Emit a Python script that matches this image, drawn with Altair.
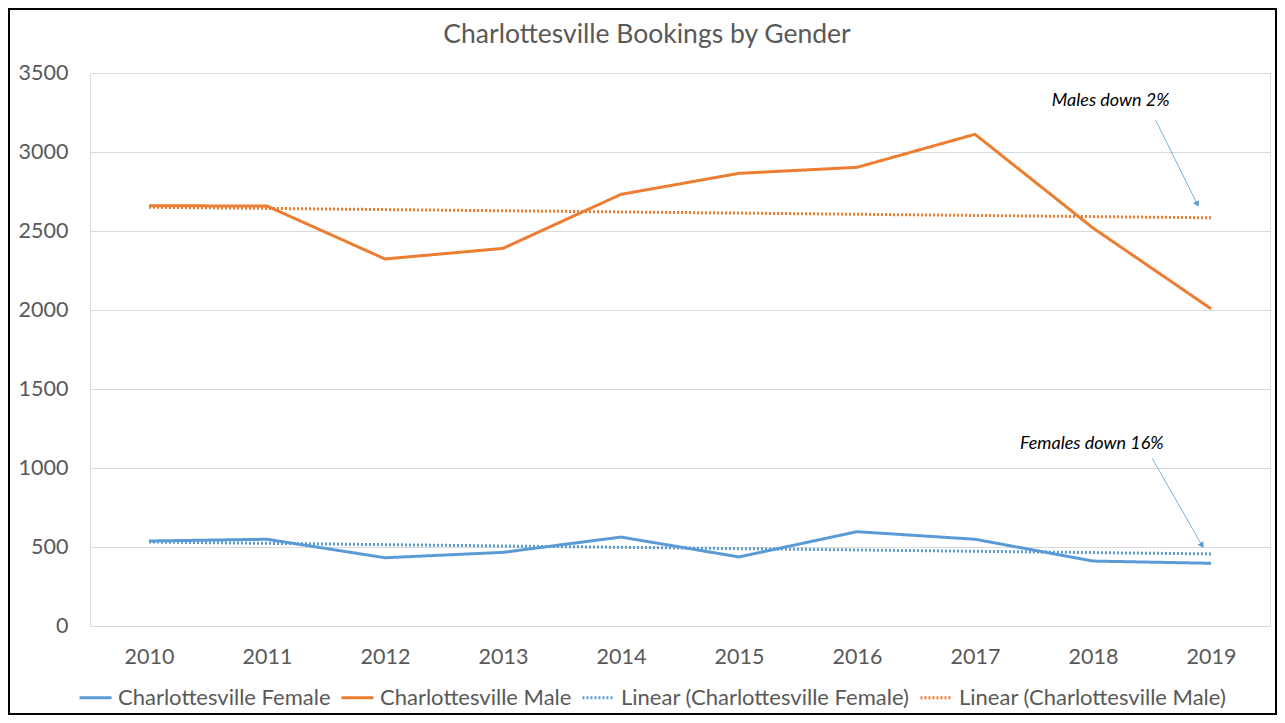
import altair as alt
import pandas as pd

# ---- data ----
years = [2010, 2011, 2012, 2013, 2014, 2015, 2016, 2017, 2018, 2019]
female = [538, 549, 432, 466, 563, 437, 597, 549, 411, 397]
male = [2660, 2658, 2323, 2390, 2732, 2865, 2903, 3112, 2519, 2008]

series_names = ["Charlottesville Female", "Charlottesville Male"]
trend_names = ["Linear (Charlottesville Female)", "Linear (Charlottesville Male)"]
legend_order = [series_names[0], series_names[1], trend_names[0], trend_names[1]]
y_ticks = [0, 500, 1000, 1500, 2000, 2500, 3000, 3500]

annot_text = ["Males down 2%", "Females down 16%"]
annot_year = [2018.15, 2017.99]
annot_value = [3320, 1155]
arrow_year_start = [2018.53, 2018.50]
arrow_value_start = [3203, 1063]
arrow_year_end = [2018.88, 2018.92]
arrow_value_end = [2675, 515]
arrow_angle = [154, 149]

BLUE = "#5B9BD5"
ORANGE = "#ED7D31"
GREY = "#595959"
FONT = "Lato"

rows = []
for y, f, m in zip(years, female, male):
    rows.append({"year": y, "value": f, "series": series_names[0]})
    rows.append({"year": y, "value": m, "series": series_names[1]})
df = pd.DataFrame(rows)

ann_df = pd.DataFrame({"text": annot_text, "year": annot_year, "value": annot_value})
arr_df = pd.DataFrame({
    "x1": arrow_year_start, "y1": arrow_value_start,
    "x2": arrow_year_end, "y2": arrow_value_end, "angle": arrow_angle,
})

x_scale = alt.Scale(domain=[2009.5, 2019.5], nice=False, zero=False)
y_scale = alt.Scale(domain=[0, 3500], nice=False)


def make_legend():
    return alt.Legend(
        title=None, orient="none", direction="horizontal", columns=4,
        legendX=-12, legendY=607, labelFontSize=22, labelColor=GREY,
        labelFont=FONT, labelOffset=5, columnPadding=4, symbolSize=1024,
        symbolType="stroke", labelLimit=400,
    )


color = alt.Color(
    "series:N",
    scale=alt.Scale(domain=legend_order, range=[BLUE, ORANGE, BLUE, ORANGE]),
    legend=make_legend(),
)
dash = alt.StrokeDash(
    "series:N",
    scale=alt.Scale(domain=legend_order, range=[[1, 0], [1, 0], [2, 2], [2, 2]]),
    legend=make_legend(),
)
width_enc = alt.StrokeWidth(
    "series:N",
    scale=alt.Scale(domain=legend_order, range=[3, 3, 1.5, 1.5]),
    legend=make_legend(),
)

x_enc = alt.X(
    "year:Q", scale=x_scale,
    axis=alt.Axis(title=None, values=years, format="d", grid=False, ticks=False,
                  domain=False, labelFontSize=21.5, labelColor=GREY, labelFont=FONT,
                  labelPadding=20),
)
y_enc = alt.Y(
    "value:Q", scale=y_scale,
    axis=alt.Axis(title=None, values=y_ticks, format="d", grid=True,
                  gridColor="#D9D9D9", ticks=False, domain=False,
                  labelFontSize=21.5, labelColor=GREY, labelFont=FONT,
                  labelPadding=22),
)

base = alt.Chart(df)

lines = base.mark_line().encode(
    x=x_enc, y=y_enc, color=color, strokeDash=dash, strokeWidth=width_enc,
    order="year:Q",
)

trend = base.transform_regression(
    "year", "value", groupby=["series"], method="linear", extent=[2010, 2019]
).transform_calculate(
    series="'Linear (' + datum.series + ')'"
).mark_line().encode(
    x="year:Q", y="value:Q", color=color, strokeDash=dash, strokeWidth=width_enc,
)

texts = alt.Chart(ann_df).mark_text(
    font=FONT, fontSize=18, fontStyle="italic", color="#000000", baseline="middle"
).encode(x="year:Q", y="value:Q", text="text:N")

arrows = alt.Chart(arr_df).mark_rule(color=BLUE, strokeWidth=0.8).encode(
    x="x1:Q", y="y1:Q", x2="x2:Q", y2="y2:Q"
)
heads = alt.Chart(arr_df).mark_point(
    shape="triangle", filled=True, color=BLUE, size=45, opacity=1
).encode(x="x2:Q", y="y2:Q", angle=alt.Angle("angle:Q", scale=None))

frame = alt.Chart(pd.DataFrame({"k": [0]})).mark_rect(
    fill=None, fillOpacity=0, stroke="#000000", strokeWidth=2
).encode(
    x=alt.value(-81), x2=alt.value(1186), y=alt.value(-64), y2=alt.value(641)
)

chart = alt.layer(trend, lines, arrows, heads, texts, frame).properties(
    width=1180, height=553,
    title=alt.TitleParams(
        "Charlottesville Bookings by Gender", fontSize=26.5, font=FONT,
        fontWeight="normal", color=GREY, anchor="middle", frame="group",
        dx=-33, dy=26, offset=-35, baseline="alphabetic",
    ),
    autosize=alt.AutoSizeParams(type="none"),
    padding={"left": 82, "top": 65, "right": 7, "bottom": 89},
).configure_view(stroke=None).configure(background="white")

chart.save("out.html", embed_options={"renderer": "svg", "actions": False})
